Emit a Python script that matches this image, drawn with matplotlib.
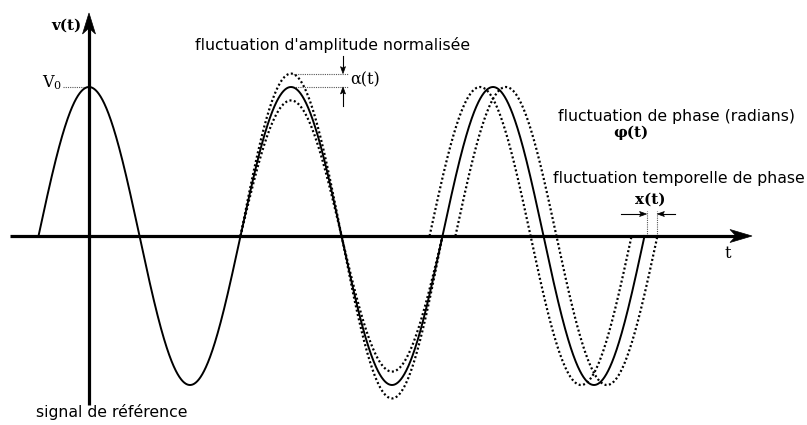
import numpy as np
import matplotlib
matplotlib.use("Agg")
import matplotlib.pyplot as plt
from matplotlib.patches import Polygon

# ---- signal parameters (period = 1, amplitude V0 = 1) ----
t_ref = [-0.25, 2.75]          # reference signal span (in periods)
t_amp = [0.75, 1.75]           # span showing amplitude fluctuation
t_phase = [1.75, 2.75]         # span showing phase fluctuation
alpha = 0.09                   # normalised amplitude fluctuation
x_shift = 0.064                # time fluctuation (fraction of period)

# pixel mapping of the drawing
W, H = 807, 425
X0, Y0 = 89, 236               # origin in pixels
SX, SY = 202.0, 149.0          # pixels per period / per V0

def px(xp, yp):
    return (xp - X0) / SX, (Y0 - yp) / SY

fig = plt.figure(figsize=(W / 100, H / 100), dpi=100)
ax = fig.add_axes([0, 0, 1, 1])
ax.set_xlim(px(0, 0)[0], px(W, 0)[0])
ax.set_ylim(px(0, H)[1], px(0, 0)[1])
ax.axis("off")

def sig(t, a=1.0, s=0.0):
    return a * np.cos(2 * np.pi * (t - s))

# reference signal
t = np.linspace(t_ref[0], t_ref[1], 2000)
ax.plot(t, sig(t), color="black", lw=1.4, zorder=3)

dotted_curve = dict(color="black", lw=1.6, ls=(0, (0.9, 1.1)), zorder=2)

# amplitude fluctuation
ta = np.linspace(t_amp[0], t_amp[1], 800)
for a in (1 + alpha, 1 - alpha):
    ax.plot(ta, sig(ta, a), **dotted_curve)

# phase fluctuation
for s in (-x_shift, x_shift):
    tp = np.linspace(t_phase[0] + s, t_phase[1] + s, 800)
    ax.plot(tp, sig(tp, 1, s), **dotted_curve)

# axes lines
hx0, hx1 = px(10, 0)[0], px(752, 0)[0]
vy0, vy1 = px(0, 405)[1], px(0, 13)[1]
ax.plot([hx0, hx1 - 10 / SX], [0, 0], color="black", lw=2.3, solid_capstyle="butt", zorder=4)
ax.plot([0, 0], [vy0, vy1 - 10 / SY], color="black", lw=2.3, solid_capstyle="butt", zorder=4)

def arrowhead(tipx, tipy, direction, L=22, Wd=6.5, notch=6):
    # returns polygon in data coords; lengths in pixels
    if direction == "right":
        pts = [(0, 0), (-L, Wd), (-L + notch, 0), (-L, -Wd)]
    elif direction == "up":
        pts = [(0, 0), (Wd, -L), (0, -L + notch), (-Wd, -L)]
    elif direction == "left":
        pts = [(0, 0), (L, Wd), (L - notch, 0), (L, -Wd)]
    else:  # down
        pts = [(0, 0), (Wd, L), (0, L - notch), (-Wd, L)]
    pts = [(tipx + dx / SX, tipy + dy / SY) for dx, dy in pts]
    return Polygon(pts, closed=True, facecolor="black", edgecolor="black", lw=0.5, zorder=5)

ax.add_patch(arrowhead(hx1, 0, "right"))
ax.add_patch(arrowhead(0, vy1, "up", L=21, Wd=6.5))

dot = dict(color="#555555", lw=0.8, ls=(0, (1, 1)))

# V0 marker
ax.plot([px(63, 0)[0], 0], [1, 1], **dot)

# alpha markers
pk_amp = t_amp[0] + 0.25
xa = px(343, 0)[0]
ax.plot([pk_amp, px(348, 0)[0]], [1 + alpha, 1 + alpha], **dot)
ax.plot([pk_amp, px(348, 0)[0]], [1, 1], **dot)
ax.plot([xa, xa], [px(0, 56)[1], 1 + alpha + 6 / SY], color="black", lw=0.8)
ax.add_patch(arrowhead(xa, 1 + alpha, "down", L=7, Wd=2.5, notch=1.5))
ax.plot([xa, xa], [px(0, 106)[1], 1 - 6 / SY], color="black", lw=0.8)
ax.add_patch(arrowhead(xa, 1, "up", L=7, Wd=2.5, notch=1.5))

# x(t) markers
zc = t_phase[1]
ya = px(0, 214)[1]
ax.plot([zc + 0.01, zc + 0.01], [0, px(0, 211)[1]], **dot)
ax.plot([zc + x_shift, zc + x_shift], [0, px(0, 211)[1]], **dot)
ax.plot([px(621, 0)[0], zc + 0.01 - 6 / SX], [ya, ya], color="black", lw=0.8)
ax.add_patch(arrowhead(zc + 0.01, ya, "right", L=7, Wd=2.5, notch=1.5))
ax.plot([px(675, 0)[0], zc + x_shift + 6 / SX], [ya, ya], color="black", lw=0.8)
ax.add_patch(arrowhead(zc + x_shift, ya, "left", L=7, Wd=2.5, notch=1.5))

serif = dict(family="DejaVu Serif")
sans = dict(family="DejaVu Sans")
fs = 11.3

def txt(xp, yp, s, ha="center", **kw):
    x, y = px(xp, yp)
    ax.text(x, y, s, ha=ha, va="center", **kw)

plt.rcParams["mathtext.fontset"] = "dejavuserif"
txt(66, 26, "v(t)", fontsize=11, fontweight="bold", **serif)
txt(62, 83, r"$\mathrm{V}_{0}$", ha="right", fontsize=11.5)
txt(333, 45, "fluctuation d'amplitude normalisée", fontsize=fs, **sans)
txt(350, 80, "α(t)", ha="left", fontsize=11.5, **serif)
txt(677, 117, "fluctuation de phase (radians)", fontsize=fs, **sans)
txt(631, 133, "φ(t)", fontsize=11, fontweight="bold", **serif)
txt(679, 178, "fluctuation temporelle de phase", fontsize=fs, **sans)
txt(650, 200, "x(t)", fontsize=11, fontweight="bold", **serif)
txt(728, 253, "t", fontsize=11.5, **serif)
txt(112, 412, "signal de référence", fontsize=fs, **sans)

fig.savefig("out.png", dpi=100)
